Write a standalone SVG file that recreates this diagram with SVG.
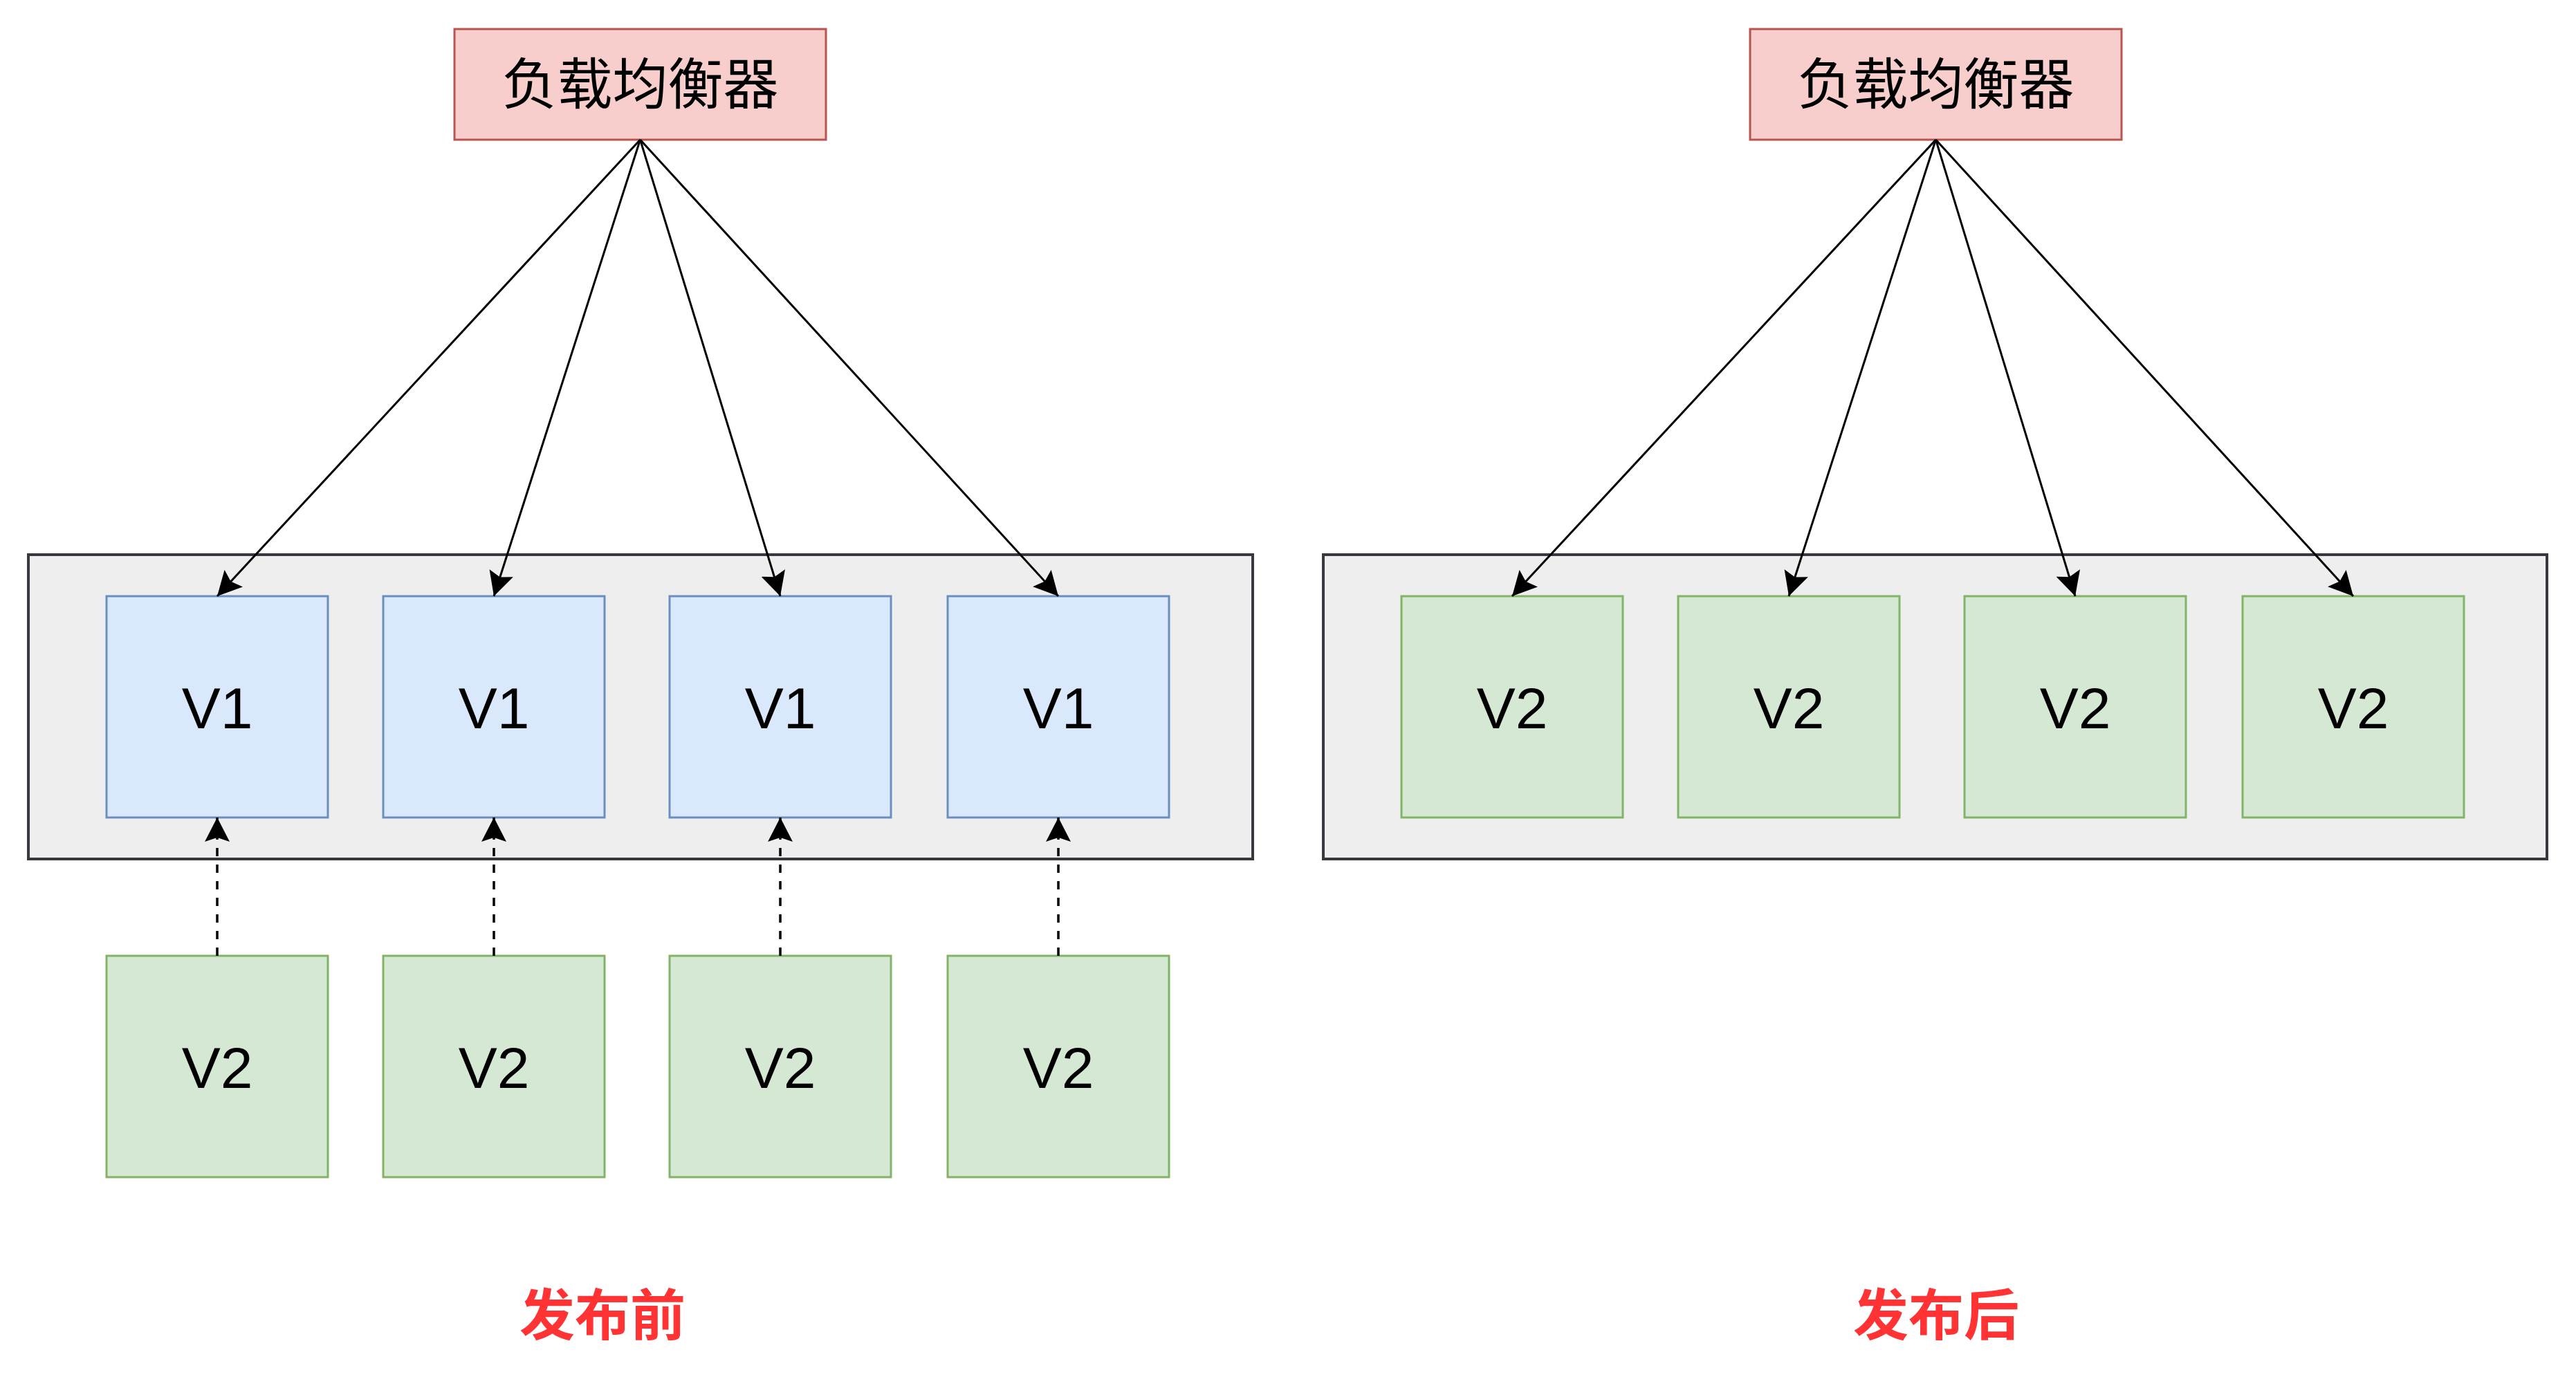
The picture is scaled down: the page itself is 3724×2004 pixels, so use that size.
<svg xmlns="http://www.w3.org/2000/svg" width="3724" height="2004" viewBox="0 0 3724 2004">
<style>
.bg{fill:#ffffff}
.lb{fill:#f8cecc;stroke:#b85450;stroke-width:3}
.ct{fill:#eeeeee;stroke:#36393d;stroke-width:4}
.v1{fill:#dae8fc;stroke:#6c8ebf;stroke-width:3}
.v2{fill:#d5e8d4;stroke:#82b366;stroke-width:3}
.t{font-family:"Liberation Sans",Arial,sans-serif;font-size:84px;fill:#000;text-anchor:middle}
.cn{font-family:"Noto Sans CJK SC",sans-serif;font-size:80px;fill:#000;text-anchor:middle}
.red{font-family:"Noto Sans CJK SC",sans-serif;font-size:80px;font-weight:bold;fill:#ff3333;text-anchor:middle}
.e{fill:none;stroke:#000;stroke-width:3;marker-end:url(#arr)}
.d{fill:none;stroke:#000;stroke-width:3.5;stroke-dasharray:12 12;marker-end:url(#arr)}
</style>
<defs>
<marker id="arr" markerUnits="userSpaceOnUse" viewBox="0 0 35 36" refX="35" refY="18" markerWidth="35" markerHeight="36" orient="auto">
<path d="M35,18 L0,0 L6,18 L0,36 Z" fill="#000"/>
</marker>
</defs>
<rect class="bg" x="0" y="0" width="3724" height="2004"/>

<g id="container-before"><rect class="ct" x="41" y="802" width="1770" height="440"/></g>
<g id="container-after"><rect class="ct" x="1913" y="802" width="1769" height="440"/></g>

<g id="lb-before"><rect class="lb" x="657" y="42" width="537" height="160"/><text class="cn" x="925.5" y="150">负载均衡器</text></g>
<g id="lb-after"><rect class="lb" x="2530" y="42" width="537" height="160"/><text class="cn" x="2798.5" y="150">负载均衡器</text></g>

<g id="v1-a"><rect class="v1" x="154" y="862" width="320" height="320"/><text class="t" x="314" y="1053">V1</text></g>
<g id="v1-b"><rect class="v1" x="554" y="862" width="320" height="320"/><text class="t" x="714" y="1053">V1</text></g>
<g id="v1-c"><rect class="v1" x="968" y="862" width="320" height="320"/><text class="t" x="1128" y="1053">V1</text></g>
<g id="v1-d"><rect class="v1" x="1370" y="862" width="320" height="320"/><text class="t" x="1530" y="1053">V1</text></g>

<g id="v2-new-a"><rect class="v2" x="154" y="1382" width="320" height="320"/><text class="t" x="314" y="1573">V2</text></g>
<g id="v2-new-b"><rect class="v2" x="554" y="1382" width="320" height="320"/><text class="t" x="714" y="1573">V2</text></g>
<g id="v2-new-c"><rect class="v2" x="968" y="1382" width="320" height="320"/><text class="t" x="1128" y="1573">V2</text></g>
<g id="v2-new-d"><rect class="v2" x="1370" y="1382" width="320" height="320"/><text class="t" x="1530" y="1573">V2</text></g>

<g id="v2-a"><rect class="v2" x="2026" y="862" width="320" height="320"/><text class="t" x="2186" y="1053">V2</text></g>
<g id="v2-b"><rect class="v2" x="2426" y="862" width="320" height="320"/><text class="t" x="2586" y="1053">V2</text></g>
<g id="v2-c"><rect class="v2" x="2840" y="862" width="320" height="320"/><text class="t" x="3000" y="1053">V2</text></g>
<g id="v2-d"><rect class="v2" x="3242" y="862" width="320" height="320"/><text class="t" x="3402" y="1053">V2</text></g>

<g id="connectors">
<line class="e" x1="925.5" y1="202" x2="314" y2="862"/>
<line class="e" x1="925.5" y1="202" x2="714" y2="862"/>
<line class="e" x1="925.5" y1="202" x2="1128" y2="862"/>
<line class="e" x1="925.5" y1="202" x2="1530" y2="862"/>
<line class="e" x1="2798.5" y1="202" x2="2186" y2="862"/>
<line class="e" x1="2798.5" y1="202" x2="2586" y2="862"/>
<line class="e" x1="2798.5" y1="202" x2="3000" y2="862"/>
<line class="e" x1="2798.5" y1="202" x2="3402" y2="862"/>
<line class="d" x1="314" y1="1382" x2="314" y2="1182"/>
<line class="d" x1="714" y1="1382" x2="714" y2="1182"/>
<line class="d" x1="1128" y1="1382" x2="1128" y2="1182"/>
<line class="d" x1="1530" y1="1382" x2="1530" y2="1182"/>
</g>

<g id="label-before"><text class="red" x="871" y="1930">发布前</text></g>
<g id="label-after"><text class="red" x="2799" y="1930">发布后</text></g>
</svg>
